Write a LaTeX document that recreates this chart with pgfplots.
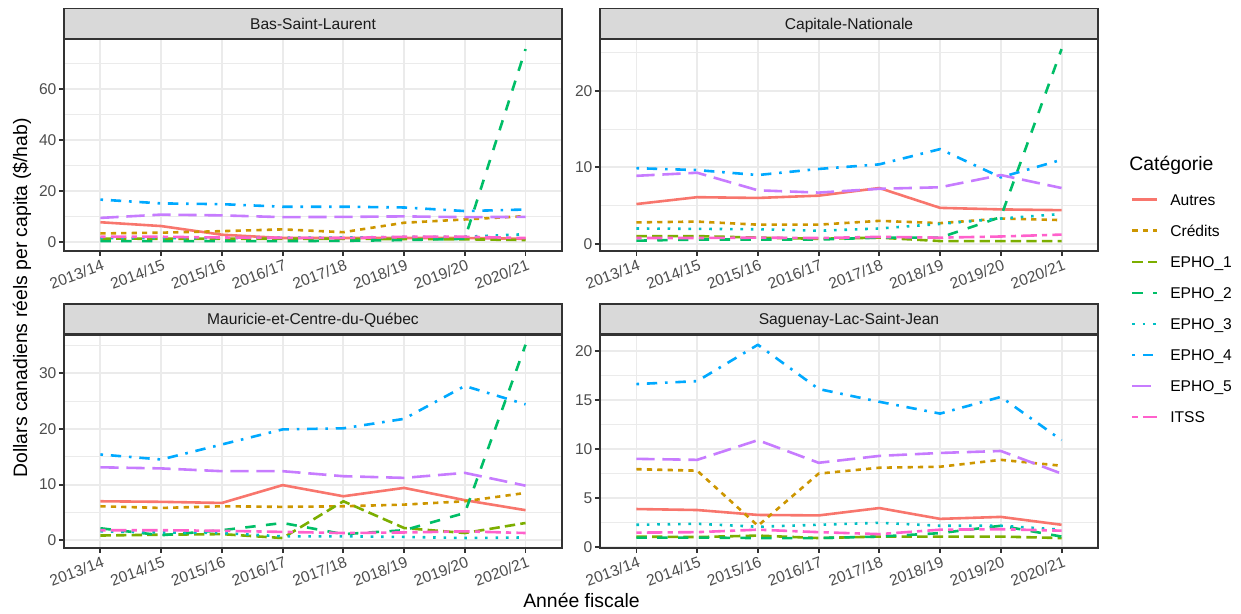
\documentclass[border=0pt]{standalone}
\usepackage{fontspec}
\setmainfont{Liberation Sans}
\usepackage{pgfplots}
\usepackage{pgfplotstable}
\pgfplotsset{compat=1.18}

\definecolor{cA}{HTML}{F8766D}
\definecolor{cB}{HTML}{CD9600}
\definecolor{cC}{HTML}{7CAE00}
\definecolor{cD}{HTML}{00BE67}
\definecolor{cE}{HTML}{00BFC4}
\definecolor{cF}{HTML}{00A9FF}
\definecolor{cG}{HTML}{C77CFF}
\definecolor{cH}{HTML}{FF61CC}
\definecolor{grey92}{HTML}{EBEBEB}
\definecolor{grey85}{HTML}{D9D9D9}
\definecolor{grey20}{HTML}{333333}
\definecolor{grey30}{HTML}{4D4D4D}
\definecolor{grey10}{HTML}{1A1A1A}

\newcommand\tfont{\fontsize{7.8}{9}\selectfont}
\newcommand\bfont{\fontsize{9.7}{11}\selectfont}

% Bas-Saint-Laurent
\pgfplotstableread{
x Autres Credits E1 E2 E3 E4 E5 ITSS
0 7.8 3.4 1.4 0.4 1.6 16.7 9.5 2.1
1 6.3 3.7 1.3 0.4 1.6 15.2 10.8 2.1
2 2.9 4.3 1.3 0.4 1.6 14.9 10.5 1.8
3 1.6 5.0 1.3 0.4 1.7 13.9 9.8 1.7
4 1.6 3.9 1.3 0.5 1.8 13.9 9.9 1.6
5 1.6 7.6 1.2 0.8 2.0 13.6 10.1 2.1
6 1.6 8.9 1.1 1.3 2.1 12.2 9.8 2.1
7 1.3 10.2 0.8 75.8 3.1 12.8 9.9 1.6
}\bsl
% Capitale-Nationale
\pgfplotstableread{
x Autres Credits E1 E2 E3 E4 E5 ITSS
0 5.2 2.8 1.0 0.4 2.0 9.9 8.9 0.75
1 6.1 2.9 1.0 0.55 1.95 9.65 9.3 0.75
2 6.0 2.5 0.8 0.55 1.9 9.0 7.0 0.8
3 6.3 2.5 0.65 0.55 1.7 9.8 6.7 0.75
4 7.3 3.0 0.8 0.8 2.0 10.4 7.2 0.9
5 4.7 2.7 0.35 0.8 2.6 12.4 7.4 0.8
6 4.5 3.3 0.35 3.5 3.3 8.7 9.0 0.95
7 4.4 3.1 0.35 25.5 3.9 11.0 7.3 1.2
}\cn
% Mauricie-et-Centre-du-Quebec
\pgfplotstableread{
x Autres Credits E1 E2 E3 E4 E5 ITSS
0 7.0 6.1 0.85 2.15 1.6 15.4 13.1 1.8
1 6.9 5.8 1.0 0.9 1.4 14.5 12.9 1.8
2 6.7 6.1 1.1 1.8 1.3 17.2 12.4 1.7
3 9.9 6.0 0.4 3.1 0.7 19.9 12.4 1.5
4 7.9 6.1 7.0 1.1 0.7 20.1 11.5 1.3
5 9.4 6.4 2.2 1.8 0.6 21.8 11.2 1.4
6 7.2 7.0 1.3 4.9 0.4 27.7 12.1 1.6
7 5.4 8.5 3.1 35.1 0.5 24.4 9.8 1.3
}\mcq
% Saguenay-Lac-Saint-Jean
\pgfplotstableread{
x Autres Credits E1 E2 E3 E4 E5 ITSS
0 3.9 7.95 1.1 1.0 2.3 16.6 9.0 1.5
1 3.8 7.8 1.05 1.0 2.4 16.9 8.9 1.55
2 3.3 2.2 1.2 0.95 2.1 20.6 10.9 1.8
3 3.25 7.5 0.95 0.95 2.3 16.1 8.6 1.55
4 4.0 8.1 1.1 1.1 2.5 14.8 9.3 1.35
5 2.9 8.2 1.1 1.45 2.2 13.6 9.6 1.8
6 3.1 8.9 1.1 2.2 2.2 15.3 9.8 1.85
7 2.3 8.3 0.95 1.1 1.8 10.9 7.5 1.7
}\slsj

\pgfplotsset{
  panel/.style={
    scale only axis, width=249pt,
    xmin=-0.6, xmax=7.6,
    xtick={0,...,7},
    xticklabels={2013/14,2014/15,2015/16,2016/17,2017/18,2018/19,2019/20,2020/21},
    tick pos=left, tick align=outside,
    major tick length=2.6pt, minor tick length=0pt,
    grid=both,
    major grid style={draw=grey92, line width=0.94pt},
    minor grid style={draw=grey92, line width=0.47pt},
    axis line style={draw=grey20, line width=0.94pt},
    tick style={draw=grey20, line width=0.94pt},
    /pgf/number format/assume math mode=true,
    ticklabel style={font=\tfont, text=grey30},
    xticklabel style={rotate=20, anchor=north east, inner sep=0pt, yshift=-1.5pt},
    yticklabel style={anchor=east, inner sep=0pt, xshift=-1pt},
    every axis title shift=0pt,
    title style={at={(0.5,1)}, anchor=south, yshift=0pt, fill=grey85,
      draw=grey20, line width=0.94pt, minimum width=249pt, minimum height=15pt,
      inner sep=0pt, text=grey10, font=\tfont, text height=5.6pt, text depth=0pt},
    every axis plot/.append style={line width=1.3pt, line join=round},
  },
  sA/.style={cA, solid},
  sB/.style={cB, dash pattern=on 2.6pt off 2.6pt},
  sC/.style={cC, dash pattern=on 5.2pt off 2.6pt},
  sD/.style={cD, dash pattern=on 5.2pt off 5.2pt},
  sE/.style={cE, dash pattern=on 1.3pt off 3.9pt},
  sF/.style={cF, dash pattern=on 1.3pt off 3.9pt on 5.2pt off 3.9pt},
  sG/.style={cG, dash pattern=on 9.1pt off 3.9pt},
  sH/.style={cH, dash pattern=on 2.6pt off 2.6pt on 7.8pt off 2.6pt},
}

\newcommand\panelplots[1]{%
  \addplot[sA] table[x=x,y=Autres]{#1};
  \addplot[sB] table[x=x,y=Credits]{#1};
  \addplot[sC] table[x=x,y=E1]{#1};
  \addplot[sD] table[x=x,y=E2]{#1};
  \addplot[sE] table[x=x,y=E3]{#1};
  \addplot[sF] table[x=x,y=E4]{#1};
  \addplot[sG] table[x=x,y=E5]{#1};
  \addplot[sH] table[x=x,y=ITSS]{#1};
}

\begin{document}
\begin{tikzpicture}
\path[use as bounding box] (0,0) rectangle (620.5pt,307pt);

\begin{axis}[panel, at={(32pt,181.65pt)}, anchor=south west, height=105.6pt,
  title={Bas-Saint-Laurent},
  ymin=-3.37, ymax=79.57, ytick={0,20,40,60}, minor ytick={10,30,50,70}]
\panelplots{\bsl}
\end{axis}

\begin{axis}[panel, at={(300pt,181.65pt)}, anchor=south west, height=105.6pt,
  title={Capitale-Nationale},
  ymin=-0.91, ymax=26.76, ytick={0,10,20}, minor ytick={5,15,25},
  legend entries={Autres,Crédits,EPHO\_1,EPHO\_2,EPHO\_3,EPHO\_4,EPHO\_5,ITSS},
  legend image code/.code={\draw[#1] (0pt,0pt) -- (12.5pt,0pt);},
  legend cell align=left,
  legend style={at={(1,1)}, anchor=north west, xshift=16.35pt, yshift=-77.1pt,
    draw=none, fill=none, inner sep=0pt, row sep=9.93pt, column sep=5.8pt,
    font=\tfont, nodes={inner sep=0pt, text height=5.6pt, text depth=0pt}}]
\panelplots{\cn}
\end{axis}

\begin{axis}[panel, at={(32pt,33.15pt)}, anchor=south west, height=106.3pt,
  title={Mauricie-et-Centre-du-Québec},
  ymin=-1.335, ymax=36.835, ytick={0,10,20,30}, minor ytick={5,15,25,35}]
\panelplots{\mcq}
\end{axis}

\begin{axis}[panel, at={(300pt,33.15pt)}, anchor=south west, height=106.3pt,
  title={Saguenay-Lac-Saint-Jean},
  ymin=-0.03, ymax=21.58, ytick={0,5,10,15,20}, minor ytick={2.5,7.5,12.5,17.5}]
\panelplots{\slsj}
\end{axis}

\node[anchor=base west, font=\bfont, inner sep=0pt] at (564.5pt,221.65pt) {Catégorie};
\node[anchor=base, font=\bfont, inner sep=0pt] at (290.75pt,3pt) {Année fiscale};
\node[rotate=90, font=\bfont, inner sep=0pt] at (11pt,158pt) {Dollars canadiens réels per capita (\$/hab)};
\end{tikzpicture}
\end{document}
